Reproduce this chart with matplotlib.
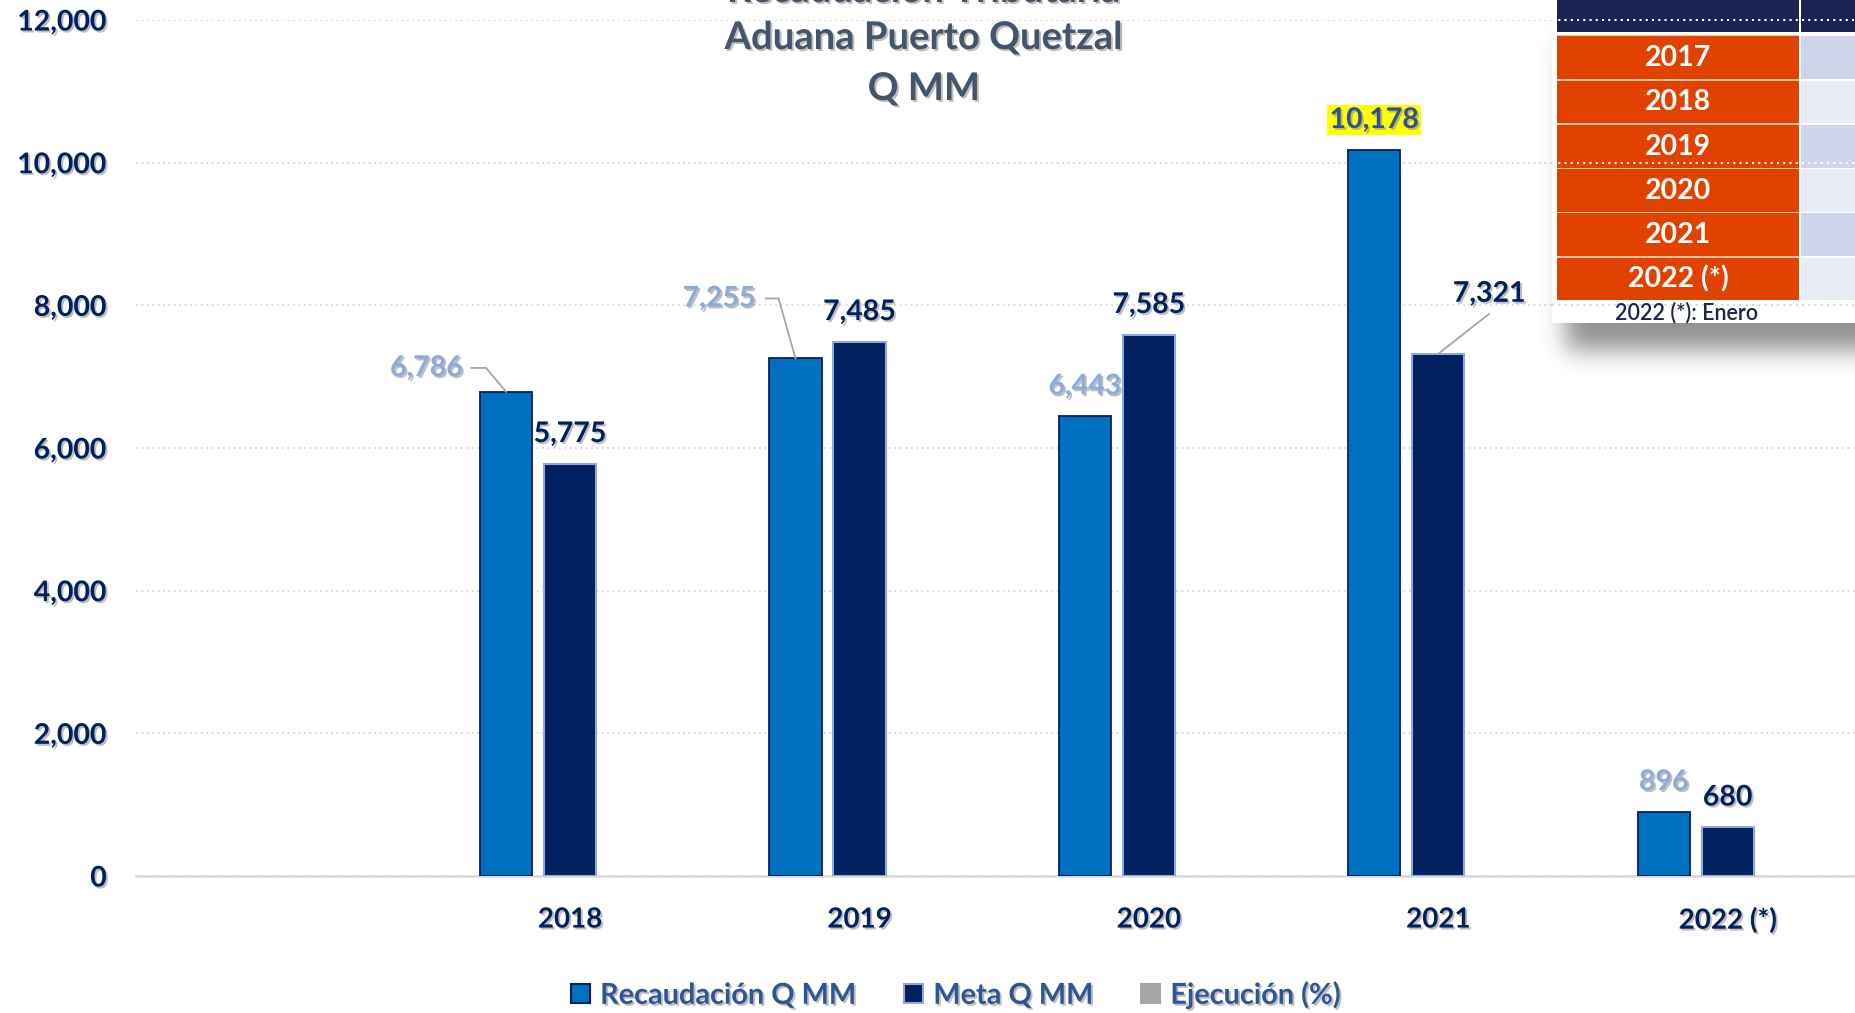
import numpy as np
import matplotlib
matplotlib.use("Agg")
import matplotlib.pyplot as plt
import matplotlib.patheffects as pe
from matplotlib.patches import Rectangle, Patch
from matplotlib.lines import Line2D

plt.rcParams['font.family'] = ['Lato', 'DejaVu Sans']

# datos
categorias = ['', '2018', '2019', '2020', '2021', '2022 (*)']
recaudacion = [np.nan, 6786, 7255, 6443, 10178, 896]
meta = [np.nan, 5775, 7485, 7585, 7321, 680]
series = ['Recaudación Q MM', 'Meta Q MM', 'Ejecución (%)']
y_ticks = [0, 2000, 4000, 6000, 8000, 10000, 12000]
anios_tabla = ['2017', '2018', '2019', '2020', '2021', '2022 (*)']
nota = '2022 (*): Enero'

W, H = 1856, 1013
PT = 0.72  # px -> pt a 100 dpi

AZUL = '#0070C0'
NAVY = '#002060'
CLARO = '#8EA9DB'

fig = plt.figure(figsize=(W / 100, H / 100), dpi=100)
slot = 289.4
ax = fig.add_axes([136 / W, 137 / H, 6 * slot / W, 856 / H])
ax.set_xlim(-0.5, 5.5)
ax.set_ylim(0, 12000)

sombra = [pe.withSimplePatchShadow(offset=(1.4, -1.4), shadow_rgbFace='#808080', alpha=0.5)]

x = np.arange(len(categorias))
off = 0.221
bw = 0.18
ax.bar(x - off, recaudacion, bw, color=AZUL, edgecolor=NAVY, linewidth=1.3, zorder=3)
ax.bar(x, meta, bw, color=NAVY, edgecolor=CLARO, linewidth=1.5, zorder=3)

for s in ['top', 'right', 'left']:
    ax.spines[s].set_visible(False)
ax.spines['bottom'].set_color('#D9D9D9')
ax.spines['bottom'].set_linewidth(1.8)
ax.yaxis.grid(True, color='#D9D9D9', linestyle=(0, (1, 2)), linewidth=1.3)
ax.set_axisbelow(True)

ax.set_yticks(y_ticks, labels=[f'{v:,}' for v in y_ticks])
ax.tick_params(axis='y', length=0, pad=21, labelsize=20.5, labelcolor=NAVY)
ax.set_xticks(x, labels=categorias)
ax.tick_params(axis='x', length=0, pad=22, labelsize=20, labelcolor=NAVY)
for lbl in ax.get_yticklabels() + ax.get_xticklabels():
    lbl.set_fontweight('bold')
    lbl.set_path_effects(sombra)


def etiqueta(xv, v, color, dx=0, dy=30, ha='center', **kw):
    return ax.annotate(f'{v:,.0f}', (xv, v), xytext=(dx * PT, dy * PT), textcoords='offset points',
                       ha=ha, va='center', color=color, fontsize=20.5, fontweight='bold',
                       path_effects=sombra, zorder=5, **kw)


def guia(xv, v, p0, p1=None):
    # linea guia desde la etiqueta hasta la barra (offsets en px)
    if p1 is None:
        cs = 'arc3,rad=0'
    else:
        ang = np.degrees(np.arctan2(p1[1], p1[0]))
        cs = f'angle,angleA=0,angleB={ang:.1f},rad=0'
    ax.annotate('', (xv, v), xytext=(p0[0] * PT, p0[1] * PT), textcoords='offset points',
                arrowprops=dict(arrowstyle='-', color='#A6A6A6', lw=1.3, shrinkA=0, shrinkB=0,
                                connectionstyle=cs), zorder=4)


for i in range(1, len(categorias)):
    xr, xm = x[i] - off, x[i]
    r, m = recaudacion[i], meta[i]
    if i == 1:
        etiqueta(xr, r, CLARO, dx=-43, dy=24, ha='right')
        guia(xr, r, (-35, 24), (-20, 24))
    elif i == 2:
        etiqueta(xr, r, CLARO, dx=-40, dy=60, ha='right')
        guia(xr, r, (-30, 60), (-17, 60))
    elif i == 4:
        etiqueta(xr, r, '#2F4F9F', bbox=dict(boxstyle='square,pad=0.08', fc='#FFFF00', ec='none'))
    else:
        etiqueta(xr, r, CLARO)
    if i == 4:
        etiqueta(xm, m, NAVY, dx=51, dy=60)
        guia(xm, m, (51, 40))
    else:
        etiqueta(xm, m, NAVY)

# titulo (la primera linea queda casi fuera del cuadro, como en el original)
tit = dict(ha='center', fontsize=27.5, fontweight='bold', color='#44546A', path_effects=sombra)
fig.text(924 / W, 1 - 2 / H, 'Recaudación Tributaria', va='baseline', **tit)
fig.text(924 / W, 1 - 38 / H, 'Aduana Puerto Quetzal', va='center', **tit)
fig.text(924 / W, 1 - 89 / H, 'Q MM', va='center', **tit)

# leyenda
handles = [Patch(fc=AZUL, ec=NAVY, lw=1.5), Patch(fc=NAVY, ec=CLARO, lw=1.5),
           Patch(fc='#A6A6A6', ec='#A6A6A6', lw=1.5)]
leg = fig.legend(handles, series, loc='center', bbox_to_anchor=(956 / W, 1 - 995 / H), ncol=3,
                 frameon=False, prop=dict(weight='bold', size=20.8), labelcolor='#2F5597',
                 handlelength=0.65, handleheight=0.65, handletextpad=0.35, columnspacing=1.65,
                 borderpad=0, borderaxespad=0)
for t in leg.get_texts():
    t.set_path_effects(sombra)


# tabla superpuesta (arriba a la derecha), en px desde arriba
def rect(x0, y0, x1, y1, color, z=2):
    fig.add_artist(Rectangle((x0 / W, 1 - y1 / H), (x1 - x0) / W, (y1 - y0) / H,
                             transform=fig.transFigure, fc=color, ec='none', zorder=z))


sx0, hh = 1460, 440
ww = W - sx0
mask = np.zeros((hh, ww))
mask[40:350, 1566 - sx0:] = 1.0
k = np.exp(-0.5 * (np.arange(-36, 37) / 12.0) ** 2)
k /= k.sum()
pad = 36
mp = np.pad(mask, pad, mode='edge')
mp = np.apply_along_axis(lambda r: np.convolve(r, k, mode='same'), 1, mp)
mp = np.apply_along_axis(lambda c: np.convolve(c, k, mode='same'), 0, mp)
mask = mp[pad:-pad, pad:-pad]
rgba = np.zeros((hh, ww, 4))
rgba[..., :3] = 0.3
rgba[..., 3] = 0.62 * mask
fig.figimage(rgba, xo=sx0, yo=H - hh, origin='upper', zorder=1)

rect(1552, -5, W + 5, 323, 'white')
rect(1557, -5, W + 5, 32, '#1C2252', 3)
rect(1799, -5, 1801, 32, 'white', 3)
row0, rh = 36, 44.2
for j, a in enumerate(anios_tabla):
    t0 = row0 + j * rh
    rect(1557, t0 - 1, 1799, t0 + rh - 1, '#F6C4A6', 3)
    rect(1557, t0 + 0.5, 1799, t0 + rh - 1, '#E24200', 3)
    rect(1801, t0 + 0.5, W + 5, t0 + rh - 1, '#CFD5EA' if j % 2 == 0 else '#E9EBF5', 3)
    fig.text(1678 / W, 1 - (t0 + rh / 2) / H, a, ha='center', va='center', color='white',
             fontsize=20.5, fontweight='bold', zorder=5)
fig.text(1687 / W, 1 - 313 / H, nota, ha='center', va='center', color='#1F2350', fontsize=15.5,
         fontweight='semibold', zorder=5)

for yv, col in [(12000, 'white'), (10000, 'white'), (8000, '#D9D9D9')]:
    yd = ax.transData.transform((0, yv))[1]
    fig.add_artist(Line2D([1552 / W, 1], [yd / H, yd / H], transform=fig.transFigure, color=col,
                          linestyle=(0, (1, 2)), linewidth=1.5, zorder=4))

fig.savefig('out.png', dpi=100)
